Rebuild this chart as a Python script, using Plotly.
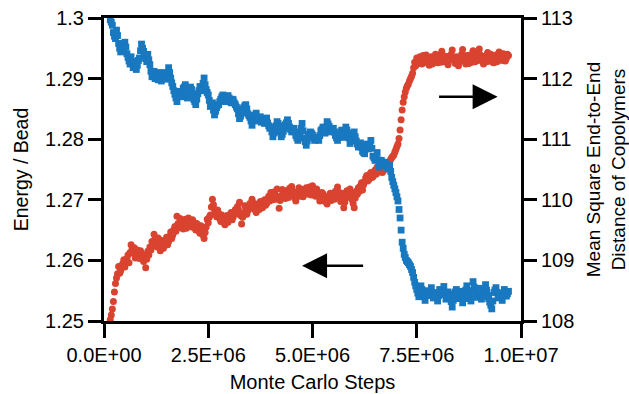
import plotly.graph_objects as go

# Monte Carlo step grid (millions of steps), primary samples
steps_m = [0.15, 0.20, 0.25, 0.30, 0.35, 0.40, 0.45, 0.50, 0.55, 0.60,
           0.65, 0.70, 0.75, 0.80, 0.85, 0.90, 0.95, 1.00, 1.05, 1.10,
           1.15, 1.20, 1.25, 1.30, 1.35, 1.40, 1.45, 1.50, 1.55, 1.60,
           1.65, 1.70, 1.75, 1.80, 1.85, 1.90, 1.95, 2.00, 2.05, 2.10,
           2.15, 2.20, 2.25, 2.30, 2.35, 2.40, 2.45, 2.50, 2.55, 2.60,
           2.65, 2.70, 2.75, 2.80, 2.85, 2.90, 2.95, 3.00, 3.05, 3.10,
           3.15, 3.20, 3.25, 3.30, 3.35, 3.40, 3.45, 3.50, 3.55, 3.60,
           3.65, 3.70, 3.75, 3.80, 3.85, 3.90, 3.95, 4.00, 4.05, 4.10,
           4.15, 4.20, 4.25, 4.30, 4.35, 4.40, 4.45, 4.50, 4.55, 4.60,
           4.65, 4.70, 4.75, 4.80, 4.85, 4.90, 4.95, 5.00, 5.05, 5.10,
           5.15, 5.20, 5.25, 5.30, 5.35, 5.40, 5.45, 5.50, 5.55, 5.60,
           5.65, 5.70, 5.75, 5.80, 5.85, 5.90, 5.95, 6.00, 6.05, 6.10,
           6.15, 6.20, 6.25, 6.30, 6.35, 6.40, 6.45, 6.50, 6.55, 6.60,
           6.65, 6.70, 6.75, 6.80, 6.85, 6.90, 6.95, 7.00, 7.05, 7.10,
           7.15, 7.20, 7.25, 7.30, 7.35, 7.40, 7.45, 7.50, 7.55, 7.60,
           7.65, 7.70, 7.75, 7.80, 7.85, 7.90, 7.95, 8.00, 8.05, 8.10,
           8.15, 8.20, 8.25, 8.30, 8.35, 8.40, 8.45, 8.50, 8.55, 8.60,
           8.65, 8.70, 8.75, 8.80, 8.85, 8.90, 8.95, 9.00, 9.05, 9.10,
           9.15, 9.20, 9.25, 9.30, 9.35, 9.40, 9.45, 9.50, 9.55, 9.60,
           9.65, 9.70]
# intermediate samples lie half-way between consecutive primary samples
mid_offset_m = 0.025

energy_per_bead = [
    1.2502, 1.2520, 1.2548, 1.2571, 1.2590, 1.2583, 1.2595, 1.2589, 1.2603, 1.2596,
    1.2626, 1.2612, 1.2604, 1.2617, 1.2603, 1.2612, 1.2598, 1.2588, 1.2615, 1.2622,
    1.2631, 1.2643, 1.2630, 1.2637, 1.2616, 1.2629, 1.2624, 1.2638, 1.2631, 1.2647,
    1.2642, 1.2656, 1.2673, 1.2654, 1.2665, 1.2652, 1.2668, 1.2659, 1.2666, 1.2655,
    1.2663, 1.2650, 1.2658, 1.2645, 1.2652, 1.2636, 1.2655, 1.2662, 1.2675, 1.2701,
    1.2684, 1.2672, 1.2678, 1.2664, 1.2670, 1.2659, 1.2674, 1.2668, 1.2679, 1.2672,
    1.2684, 1.2689, 1.2696, 1.2660, 1.2678, 1.2686, 1.2682, 1.2694, 1.2701, 1.2688,
    1.2679, 1.2690, 1.2697, 1.2687, 1.2700, 1.2694, 1.2706, 1.2712, 1.2700, 1.2709,
    1.2718, 1.2686, 1.2707, 1.2714, 1.2702, 1.2711, 1.2719, 1.2722, 1.2708, 1.2698,
    1.2713, 1.2706, 1.2717, 1.2711, 1.2720, 1.2709, 1.2716, 1.2723, 1.2712, 1.2718,
    1.2707, 1.2703, 1.2710, 1.2697, 1.2693, 1.2705, 1.2699, 1.2709, 1.2714, 1.2721,
    1.2704, 1.2711, 1.2687, 1.2703, 1.2712, 1.2718, 1.2700, 1.2687, 1.2714, 1.2720,
    1.2723, 1.2716, 1.2730, 1.2740, 1.2733, 1.2745, 1.2738, 1.2749, 1.2754, 1.2746,
    1.2752, 1.2748, 1.2758, 1.2755, 1.2763, 1.2770, 1.2774, 1.2783, 1.2792, 1.2815,
    1.2848, 1.2870, 1.2884, 1.2891, 1.2900, 1.2909, 1.2927, 1.2934, 1.2925, 1.2931,
    1.2938, 1.2927, 1.2933, 1.2922, 1.2936, 1.2929, 1.2940, 1.2926, 1.2934, 1.2945,
    1.2928, 1.2937, 1.2923, 1.2932, 1.2947, 1.2929, 1.2936, 1.2921, 1.2933, 1.2948,
    1.2930, 1.2938, 1.2925, 1.2934, 1.2946, 1.2928, 1.2937, 1.2949, 1.2931, 1.2924,
    1.2936, 1.2943, 1.2929, 1.2935, 1.2926, 1.2939, 1.2932, 1.2942, 1.2930, 1.2937,
    1.2933, 1.2938]

energy_per_bead_mid = [
    1.2510, 1.2532, 1.2562, 1.2578, 1.2579, 1.2591, 1.2601, 1.2597, 1.2609, 1.2613,
    1.2619, 1.2621, 1.2610, 1.2608, 1.2616, 1.2605, 1.2607, 1.2602, 1.2609, 1.2617,
    1.2625, 1.2636, 1.2622, 1.2628, 1.2633, 1.2620, 1.2632, 1.2626, 1.2640, 1.2636,
    1.2651, 1.2648, 1.2661, 1.2669, 1.2657, 1.2661, 1.2653, 1.2670, 1.2658, 1.2667,
    1.2654, 1.2661, 1.2649, 1.2657, 1.2642, 1.2646, 1.2668, 1.2671, 1.2688, 1.2692,
    1.2676, 1.2683, 1.2669, 1.2675, 1.2662, 1.2668, 1.2663, 1.2676, 1.2667, 1.2680,
    1.2677, 1.2683, 1.2674, 1.2671, 1.2690, 1.2676, 1.2691, 1.2686, 1.2695, 1.2683,
    1.2693, 1.2684, 1.2693, 1.2695, 1.2691, 1.2702, 1.2698, 1.2705, 1.2713, 1.2701,
    1.2703, 1.2699, 1.2717, 1.2706, 1.2715, 1.2704, 1.2712, 1.2715, 1.2703, 1.2707,
    1.2720, 1.2712, 1.2705, 1.2716, 1.2713, 1.2721, 1.2708, 1.2717, 1.2706, 1.2711,
    1.2698, 1.2712, 1.2702, 1.2705, 1.2700, 1.2711, 1.2704, 1.2701, 1.2707, 1.2713,
    1.2697, 1.2702, 1.2696, 1.2715, 1.2705, 1.2709, 1.2694, 1.2703, 1.2709, 1.2714,
    1.2728, 1.2725, 1.2736, 1.2731, 1.2742, 1.2737, 1.2744, 1.2742, 1.2750, 1.2755,
    1.2745, 1.2756, 1.2751, 1.2761, 1.2767, 1.2772, 1.2779, 1.2788, 1.2801, 1.2832,
    1.2861, 1.2878, 1.2888, 1.2896, 1.2904, 1.2918, 1.2921, 1.2928, 1.2936, 1.2924,
    1.2932, 1.2939, 1.2926, 1.2931, 1.2924, 1.2935, 1.2931, 1.2938, 1.2927, 1.2936,
    1.2933, 1.2930, 1.2935, 1.2940, 1.2934, 1.2925, 1.2930, 1.2928, 1.2940, 1.2937,
    1.2924, 1.2931, 1.2939, 1.2927, 1.2935, 1.2941, 1.2930, 1.2939, 1.2937, 1.2930,
    1.2928, 1.2936, 1.2940, 1.2927, 1.2934, 1.2928, 1.2944, 1.2933, 1.2941, 1.2929,
    1.2940]

msd_end_to_end = [
    112.97, 112.88, 112.70, 112.80, 112.58, 112.44, 112.52, 112.60, 112.41, 112.29,
    112.36, 112.18, 112.27, 112.22, 112.34, 112.57, 112.45, 112.33, 112.40, 112.23,
    112.03, 112.12, 112.06, 111.98, 112.09, 112.01, 112.07, 111.99, 112.18, 112.01,
    111.87, 111.74, 111.62, 111.79, 111.70, 111.84, 111.90, 111.68, 111.78, 111.82,
    111.66, 111.57, 111.75, 111.87, 111.80, 112.01, 111.82, 111.73, 111.54, 111.60,
    111.40, 111.52, 111.57, 111.66, 111.73, 111.62, 111.70, 111.68, 111.60, 111.65,
    111.57, 111.50, 111.34, 111.44, 111.52, 111.57, 111.42, 111.36, 111.23, 111.38,
    111.43, 111.30, 111.37, 111.32, 111.26, 111.35, 111.22, 111.20, 111.04, 111.16,
    111.29, 111.22, 111.04, 111.13, 111.24, 111.32, 111.20, 111.12, 111.18, 111.06,
    110.98, 111.10, 111.26, 111.02, 110.90, 111.04, 111.12, 111.07, 110.98, 111.03,
    110.98, 111.14, 111.20, 111.10, 111.29, 111.21, 111.12, 111.18, 111.06, 110.98,
    111.08, 111.15, 111.03, 111.20, 111.10, 110.93, 111.05, 111.12, 110.97, 110.87,
    110.94, 110.80, 110.76, 110.92, 110.84, 110.98, 110.72, 110.65, 110.78, 110.54,
    110.65, 110.58, 110.62, 110.52, 110.57, 110.37, 110.24, 110.12, 109.98, 109.70,
    109.30, 109.10, 109.00, 108.96, 108.90, 108.80, 108.64, 108.52, 108.40, 108.58,
    108.46, 108.34, 108.50, 108.42, 108.55, 108.38, 108.47, 108.33, 108.52, 108.44,
    108.57, 108.36, 108.48, 108.40, 108.23, 108.45, 108.52, 108.37, 108.49, 108.30,
    108.44, 108.58, 108.41, 108.33, 108.65, 108.48, 108.39, 108.54, 108.36, 108.45,
    108.60, 108.42, 108.31, 108.20, 108.47, 108.55, 108.38, 108.46, 108.34, 108.52,
    108.41, 108.49]

msd_end_to_end_mid = [
    112.93, 112.76, 112.66, 112.71, 112.50, 112.53, 112.45, 112.52, 112.35, 112.24,
    112.28, 112.25, 112.15, 112.30, 112.46, 112.50, 112.38, 112.28, 112.31, 112.12,
    112.08, 112.00, 112.10, 112.04, 111.96, 112.10, 112.02, 112.08, 112.10, 111.93,
    111.80, 111.68, 111.72, 111.76, 111.77, 111.86, 111.76, 111.72, 111.86, 111.74,
    111.62, 111.66, 111.80, 111.84, 111.92, 111.90, 111.77, 111.64, 111.58, 111.48,
    111.46, 111.56, 111.62, 111.70, 111.68, 111.65, 111.72, 111.63, 111.66, 111.60,
    111.53, 111.42, 111.38, 111.48, 111.55, 111.50, 111.39, 111.30, 111.32, 111.40,
    111.36, 111.35, 111.28, 111.30, 111.31, 111.27, 111.18, 111.12, 111.10, 111.22,
    111.26, 111.12, 111.08, 111.18, 111.27, 111.26, 111.16, 111.15, 111.12, 111.02,
    111.05, 111.18, 111.14, 110.96, 110.97, 111.08, 111.10, 111.02, 111.00, 111.01,
    111.06, 111.16, 111.15, 111.20, 111.25, 111.16, 111.15, 111.12, 111.02, 111.03,
    111.12, 111.09, 111.11, 111.15, 111.02, 110.99, 111.08, 111.04, 110.92, 110.90,
    110.87, 110.78, 110.84, 110.88, 110.91, 110.85, 110.69, 110.71, 110.66, 110.60,
    110.62, 110.60, 110.57, 110.54, 110.47, 110.30, 110.18, 110.05, 109.84, 109.50,
    109.20, 109.05, 108.98, 108.93, 108.85, 108.72, 108.58, 108.46, 108.49, 108.52,
    108.40, 108.42, 108.46, 108.48, 108.46, 108.43, 108.40, 108.42, 108.48, 108.50,
    108.46, 108.42, 108.44, 108.32, 108.34, 108.48, 108.44, 108.43, 108.40, 108.37,
    108.51, 108.50, 108.37, 108.49, 108.56, 108.44, 108.46, 108.45, 108.40, 108.52,
    108.51, 108.37, 108.26, 108.33, 108.51, 108.47, 108.42, 108.40, 108.43, 108.47,
    108.45]

x_tickvals = [0, 2.5e6, 5.0e6, 7.5e6, 1.0e7]
x_ticktext = ["0.0E+00", "2.5E+06", "5.0E+06", "7.5E+06", "1.0E+07"]
y_tickvals = [1.25, 1.26, 1.27, 1.28, 1.29, 1.30]
y_ticktext = ["1.25", "1.26", "1.27", "1.28", "1.29", "1.3"]
y2_tickvals = [108, 109, 110, 111, 112, 113]
y2_ticktext = ["108", "109", "110", "111", "112", "113"]

# merge primary and intermediate samples in step order
steps_all, energy_all, msd_all = [], [], []
for i, s in enumerate(steps_m):
    steps_all.append(s * 1e6)
    energy_all.append(energy_per_bead[i])
    msd_all.append(msd_end_to_end[i])
    if i < len(energy_per_bead_mid):
        steps_all.append((s + mid_offset_m) * 1e6)
        energy_all.append(energy_per_bead_mid[i])
        msd_all.append(msd_end_to_end_mid[i])

RED = "#d9432f"
BLUE = "#1878c0"
FONT = "Liberation Sans, Arial, sans-serif"

fig = go.Figure()
fig.add_trace(go.Scatter(x=steps_all, y=energy_all, mode="markers",
                         marker=dict(symbol="circle", size=7, color=RED),
                         yaxis="y", showlegend=False))
fig.add_trace(go.Scatter(x=steps_all, y=msd_all, mode="markers",
                         marker=dict(symbol="square", size=6.8, color=BLUE),
                         yaxis="y2", showlegend=False))

axis_common = dict(showline=True, linecolor="black", linewidth=3,
                   ticks="outside", tickcolor="black", tickwidth=3,
                   showgrid=False, zeroline=False, automargin=False,
                   tickfont=dict(family=FONT, size=20, color="black"))

fig.update_layout(
    width=629, height=394,
    margin=dict(l=104, r=108, t=18, b=73),
    paper_bgcolor="white", plot_bgcolor="white",
    font=dict(family=FONT, color="black"),
    xaxis=dict(range=[0, 1.0e7], tickmode="array", tickvals=x_tickvals,
               ticktext=x_ticktext, ticklen=14, mirror=True,
               title=dict(text="Monte Carlo Steps", font=dict(size=20), standoff=10),
               **axis_common),
    yaxis=dict(range=[1.25, 1.30], tickmode="array", tickvals=y_tickvals,
               ticktext=y_ticktext, ticklen=13,
               title=dict(text="Energy / Bead", font=dict(size=19.5), standoff=12),
               **axis_common),
    yaxis2=dict(range=[108, 113], tickmode="array", tickvals=y2_tickvals,
                ticktext=y2_ticktext, ticklen=13, overlaying="y", side="right",
                title=dict(text="Mean Square End-to-End<br>Distance of Copolymers",
                           font=dict(size=19), standoff=15),
                **axis_common),
)

# Direction arrows
fig.add_annotation(x=4.75e6, y=1.2591, ax=6.25e6, ay=1.2591,
                   xref="x", yref="y", axref="x", ayref="y", text="",
                   showarrow=True, arrowhead=2, arrowsize=2.0, arrowwidth=2.5,
                   arrowcolor="black")
fig.add_annotation(x=9.44e6, y=1.2870, ax=8.0e6, ay=1.2870,
                   xref="x", yref="y", axref="x", ayref="y", text="",
                   showarrow=True, arrowhead=2, arrowsize=2.0, arrowwidth=2.5,
                   arrowcolor="black")

fig.write_html("out.html",
               config={"displayModeBar": False},
               post_script="document.body.style.margin='0px';"
                           "document.body.style.padding='0px';")
